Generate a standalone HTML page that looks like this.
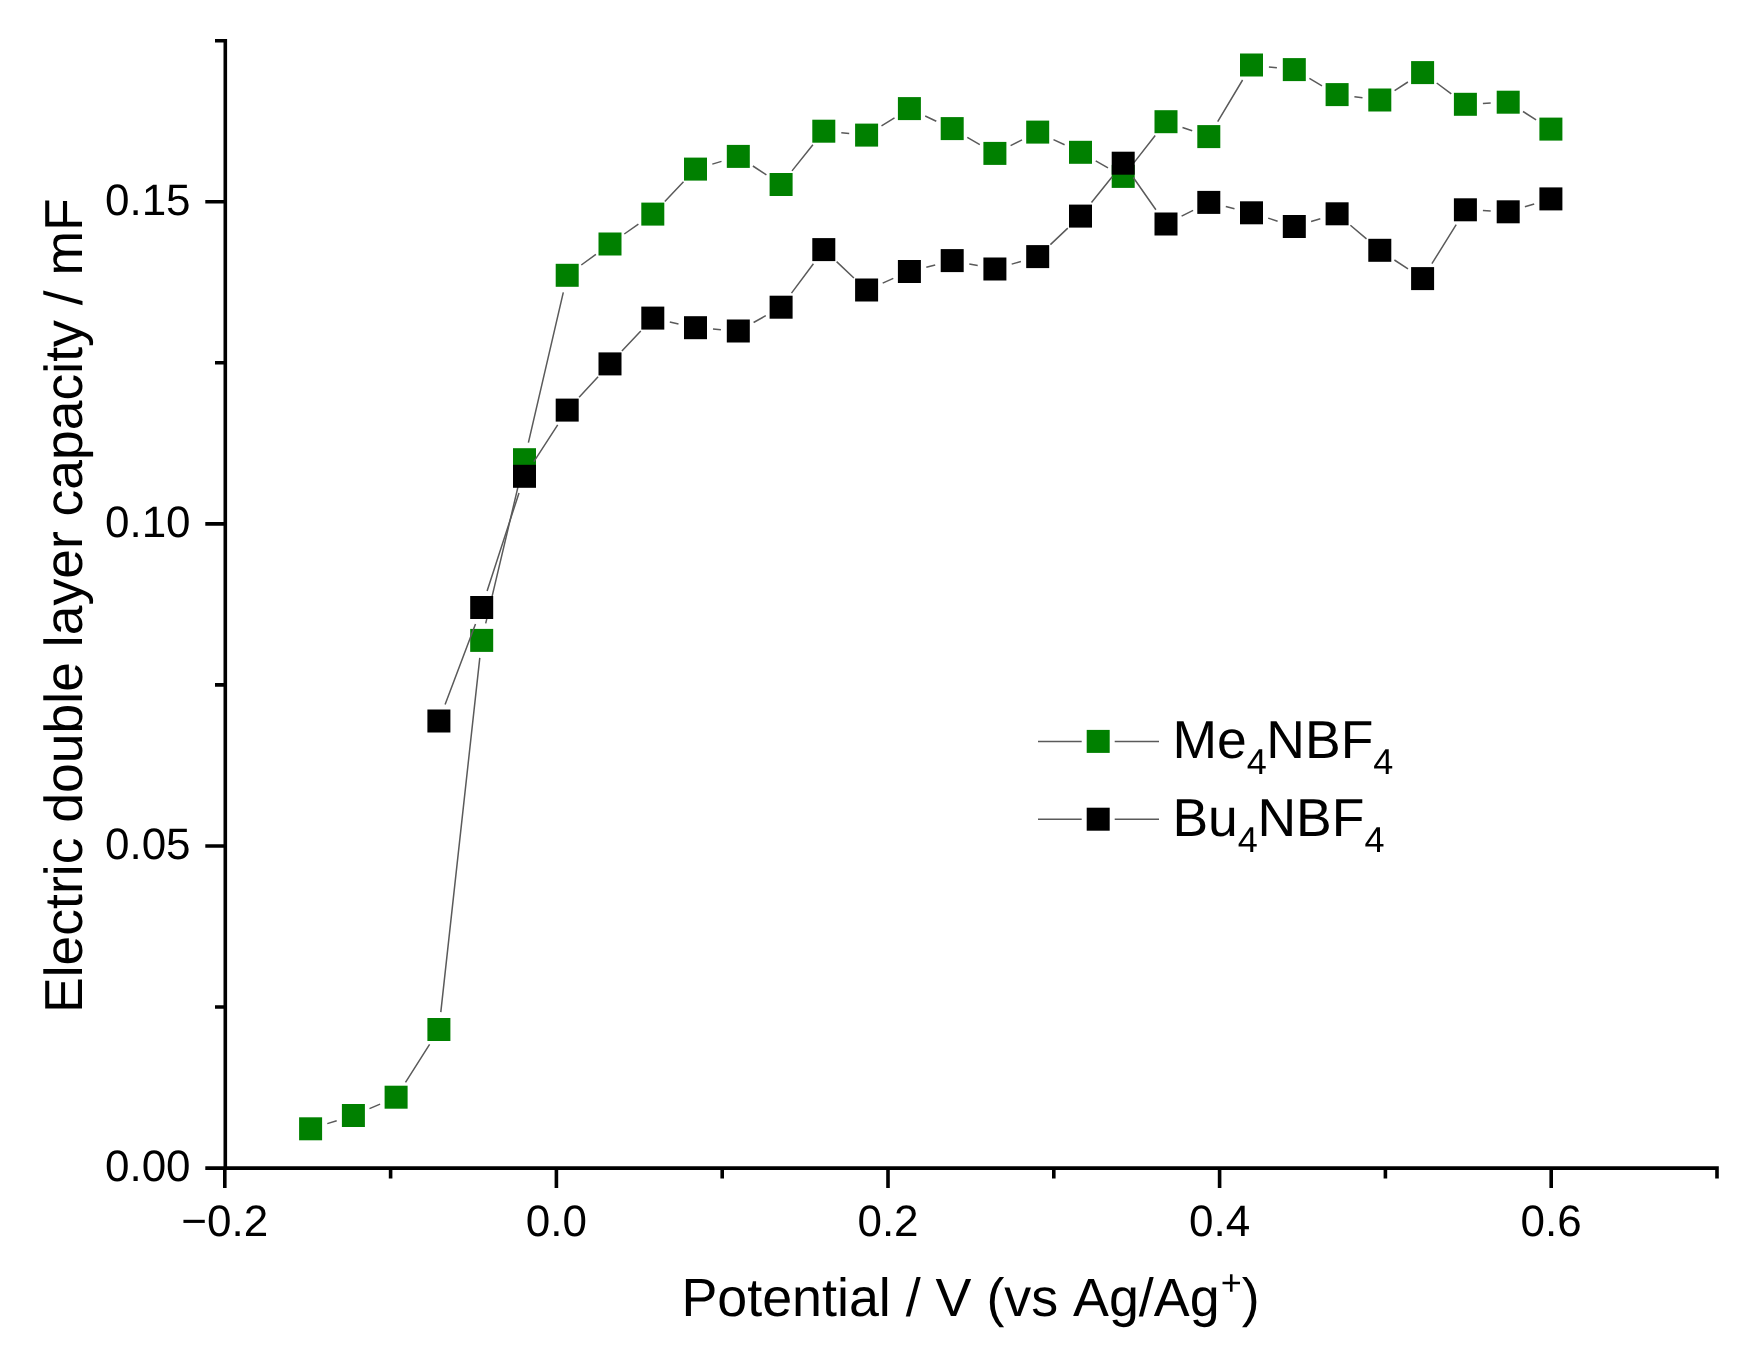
<!DOCTYPE html><html><head><meta charset="utf-8"><title>Electric double layer capacity</title><style>html,body{margin:0;padding:0;background:#fff}svg{display:block;filter:blur(0.45px)}</style></head><body><svg width="1739" height="1354" viewBox="0 0 1739 1354">
<rect width="1739" height="1354" fill="#fff"/>
<path d="M327.3 1123.6L336.7 1120.7M369.5 1108.6L380.1 1104.1M405.5 1082.4L429.6 1044.3M440.8 1012.1L479.8 657.8M485.7 623.4L520.4 476.7M528.4 442.7L563.3 292.3M581.3 265.0L595.9 254.3M624.3 234.0L638.4 224.1M664.8 201.4L683.5 181.8M712.3 164.1L721.5 161.4M752.9 166.0L766.4 174.9M792.0 170.9L812.9 144.8M841.3 132.8L849.2 133.5M881.5 125.9L894.5 117.8M925.2 116.0L936.3 121.2M967.3 137.4L979.8 144.6M1010.6 145.6L1022.0 139.9M1053.5 139.6L1064.6 144.8M1095.7 160.9L1108.0 167.8M1134.0 162.6L1155.2 135.5M1182.5 127.5L1192.2 130.8M1217.7 121.6L1242.6 80.0M1268.9 66.9L1276.9 67.7M1309.4 78.4L1322.0 85.8M1354.4 96.8L1362.5 97.8M1394.6 90.6L1407.9 82.0M1436.7 83.0L1451.3 93.9M1482.9 103.4L1490.7 103.1M1523.0 111.5L1536.1 119.8" stroke="#5a5a5a" stroke-width="1.5" fill="none"/>
<rect x="299.1" y="1117.3" width="23.0" height="23.0" fill="#008000"/><rect x="341.9" y="1104.0" width="23.0" height="23.0" fill="#008000"/><rect x="384.6" y="1085.7" width="23.0" height="23.0" fill="#008000"/><rect x="427.4" y="1018.0" width="23.0" height="23.0" fill="#008000"/><rect x="470.2" y="628.9" width="23.0" height="23.0" fill="#008000"/><rect x="513.0" y="448.2" width="23.0" height="23.0" fill="#008000"/><rect x="555.7" y="263.8" width="23.0" height="23.0" fill="#008000"/><rect x="598.5" y="232.5" width="23.0" height="23.0" fill="#008000"/><rect x="641.3" y="202.6" width="23.0" height="23.0" fill="#008000"/><rect x="684.0" y="157.6" width="23.0" height="23.0" fill="#008000"/><rect x="726.8" y="144.9" width="23.0" height="23.0" fill="#008000"/><rect x="769.6" y="173.0" width="23.0" height="23.0" fill="#008000"/><rect x="812.3" y="119.7" width="23.0" height="23.0" fill="#008000"/><rect x="855.1" y="123.6" width="23.0" height="23.0" fill="#008000"/><rect x="897.9" y="97.1" width="23.0" height="23.0" fill="#008000"/><rect x="940.7" y="117.1" width="23.0" height="23.0" fill="#008000"/><rect x="983.4" y="141.9" width="23.0" height="23.0" fill="#008000"/><rect x="1026.2" y="120.6" width="23.0" height="23.0" fill="#008000"/><rect x="1069.0" y="140.8" width="23.0" height="23.0" fill="#008000"/><rect x="1111.7" y="164.9" width="23.0" height="23.0" fill="#008000"/><rect x="1154.5" y="110.2" width="23.0" height="23.0" fill="#008000"/><rect x="1197.3" y="125.1" width="23.0" height="23.0" fill="#008000"/><rect x="1240.0" y="53.5" width="23.0" height="23.0" fill="#008000"/><rect x="1282.8" y="58.1" width="23.0" height="23.0" fill="#008000"/><rect x="1325.6" y="83.1" width="23.0" height="23.0" fill="#008000"/><rect x="1368.3" y="88.5" width="23.0" height="23.0" fill="#008000"/><rect x="1411.1" y="61.1" width="23.0" height="23.0" fill="#008000"/><rect x="1453.9" y="92.8" width="23.0" height="23.0" fill="#008000"/><rect x="1496.7" y="90.7" width="23.0" height="23.0" fill="#008000"/><rect x="1539.4" y="117.6" width="23.0" height="23.0" fill="#008000"/>
<path d="M445.1 704.6L475.5 623.9M487.1 590.9L519.0 492.9M533.9 461.6L557.7 424.8M579.1 397.3L598.1 376.7M621.9 351.1L640.8 330.9M669.8 321.9L678.5 323.9M713.0 329.0L720.9 329.7M753.6 322.5L765.8 315.7M791.5 293.1L813.4 263.7M836.6 261.6L853.9 278.0M882.7 283.1L893.3 278.4M926.3 267.2L935.2 264.9M969.3 264.0L977.7 265.6M1011.7 264.1L1020.9 261.5M1050.4 244.6L1067.8 228.1M1091.5 202.5L1112.2 176.8M1133.3 177.5L1155.9 209.7M1181.6 216.1L1193.1 210.3M1225.8 206.5L1234.5 208.7M1268.2 218.1L1277.6 221.2M1311.1 221.5L1320.3 218.8M1350.4 225.2L1366.5 238.9M1394.4 260.0L1408.0 268.9M1431.9 263.7L1456.2 224.7M1482.9 210.6L1490.7 211.0M1524.9 206.7L1534.2 204.0" stroke="#5a5a5a" stroke-width="1.5" fill="none"/>
<rect x="427.4" y="709.5" width="23.0" height="23.0" fill="#000"/><rect x="470.2" y="596.0" width="23.0" height="23.0" fill="#000"/><rect x="513.0" y="464.8" width="23.0" height="23.0" fill="#000"/><rect x="555.7" y="398.6" width="23.0" height="23.0" fill="#000"/><rect x="598.5" y="352.4" width="23.0" height="23.0" fill="#000"/><rect x="641.3" y="306.6" width="23.0" height="23.0" fill="#000"/><rect x="684.0" y="316.2" width="23.0" height="23.0" fill="#000"/><rect x="726.8" y="319.5" width="23.0" height="23.0" fill="#000"/><rect x="769.6" y="295.7" width="23.0" height="23.0" fill="#000"/><rect x="812.3" y="238.1" width="23.0" height="23.0" fill="#000"/><rect x="855.1" y="278.5" width="23.0" height="23.0" fill="#000"/><rect x="897.9" y="260.0" width="23.0" height="23.0" fill="#000"/><rect x="940.7" y="249.1" width="23.0" height="23.0" fill="#000"/><rect x="983.4" y="257.5" width="23.0" height="23.0" fill="#000"/><rect x="1026.2" y="245.1" width="23.0" height="23.0" fill="#000"/><rect x="1069.0" y="204.6" width="23.0" height="23.0" fill="#000"/><rect x="1111.7" y="151.7" width="23.0" height="23.0" fill="#000"/><rect x="1154.5" y="212.5" width="23.0" height="23.0" fill="#000"/><rect x="1197.3" y="190.9" width="23.0" height="23.0" fill="#000"/><rect x="1240.0" y="201.3" width="23.0" height="23.0" fill="#000"/><rect x="1282.8" y="215.0" width="23.0" height="23.0" fill="#000"/><rect x="1325.6" y="202.3" width="23.0" height="23.0" fill="#000"/><rect x="1368.3" y="238.8" width="23.0" height="23.0" fill="#000"/><rect x="1411.1" y="267.1" width="23.0" height="23.0" fill="#000"/><rect x="1453.9" y="198.3" width="23.0" height="23.0" fill="#000"/><rect x="1496.7" y="200.3" width="23.0" height="23.0" fill="#000"/><rect x="1539.4" y="187.4" width="23.0" height="23.0" fill="#000"/>
<path d="M225.3 39.0L225.3 1169.8999999999999M223.5 1168.1L1718.8 1168.1M224.8 1168.1L224.8 1188.1M390.6 1168.1L390.6 1178.3999999999999M556.4 1168.1L556.4 1188.1M722.2 1168.1L722.2 1178.3999999999999M888.0 1168.1L888.0 1188.1M1053.8 1168.1L1053.8 1178.3999999999999M1219.6 1168.1L1219.6 1188.1M1385.4 1168.1L1385.4 1178.3999999999999M1551.2 1168.1L1551.2 1188.1M1717.0 1168.1L1717.0 1178.3999999999999M225.3 1168.1L205.3 1168.1M225.3 1007.0L215.0 1007.0M225.3 846.0L205.3 846.0M225.3 684.9L215.0 684.9M225.3 523.9L205.3 523.9M225.3 362.8L215.0 362.8M225.3 201.8L205.3 201.8M225.3 40.7L215.0 40.7" stroke="#000" stroke-width="3.6" fill="none"/>
<g font-family="'Liberation Sans', Arial, sans-serif" fill="#000" style="font-kerning:none;text-rendering:geometricPrecision">
<text x="224.8" y="1236.3" font-size="44" text-anchor="middle">−0.2</text>
<text x="556.4" y="1236.3" font-size="44" text-anchor="middle">0.0</text>
<text x="888.0" y="1236.3" font-size="44" text-anchor="middle">0.2</text>
<text x="1219.6" y="1236.3" font-size="44" text-anchor="middle">0.4</text>
<text x="1551.2" y="1236.3" font-size="44" text-anchor="middle">0.6</text>
<text x="190.6" y="1181.0" font-size="44" text-anchor="end">0.00</text>
<text x="190.6" y="858.9" font-size="44" text-anchor="end">0.05</text>
<text x="190.6" y="536.8" font-size="44" text-anchor="end">0.10</text>
<text x="190.6" y="214.7" font-size="44" text-anchor="end">0.15</text>
<text x="681.4" y="1316.1" font-size="53.8">Potential / V (vs Ag/Ag<tspan font-size="36" dy="-21" dx="1">+</tspan><tspan dy="21">)</tspan></text>
<text transform="translate(82.4 1013) rotate(-90)" font-size="53.5">Electric double layer capacity / mF</text>
<path d="M1038 741.4L1081.7 741.4M1114.7 741.4L1159 741.4" stroke="#5a5a5a" stroke-width="1.5"/>
<rect x="1086.7" y="729.9" width="23.0" height="23.0" fill="#008000"/>
<text x="1172.4" y="758.0" font-size="53.5">Me<tspan font-size="36" dy="15.6" dx="0">4</tspan><tspan dy="-15.6" dx="-0.4">NBF</tspan><tspan font-size="36" dy="15.6" dx="0">4</tspan></text>
<path d="M1038 819.2L1081.7 819.2M1114.7 819.2L1159 819.2" stroke="#5a5a5a" stroke-width="1.5"/>
<rect x="1086.7" y="807.7" width="23.0" height="23.0" fill="#000"/>
<text x="1172.4" y="836.3" font-size="53.5">Bu<tspan font-size="36" dy="15.6" dx="0">4</tspan><tspan dy="-15.6" dx="-0.4">NBF</tspan><tspan font-size="36" dy="15.6" dx="0">4</tspan></text>
</g></svg></body></html>
